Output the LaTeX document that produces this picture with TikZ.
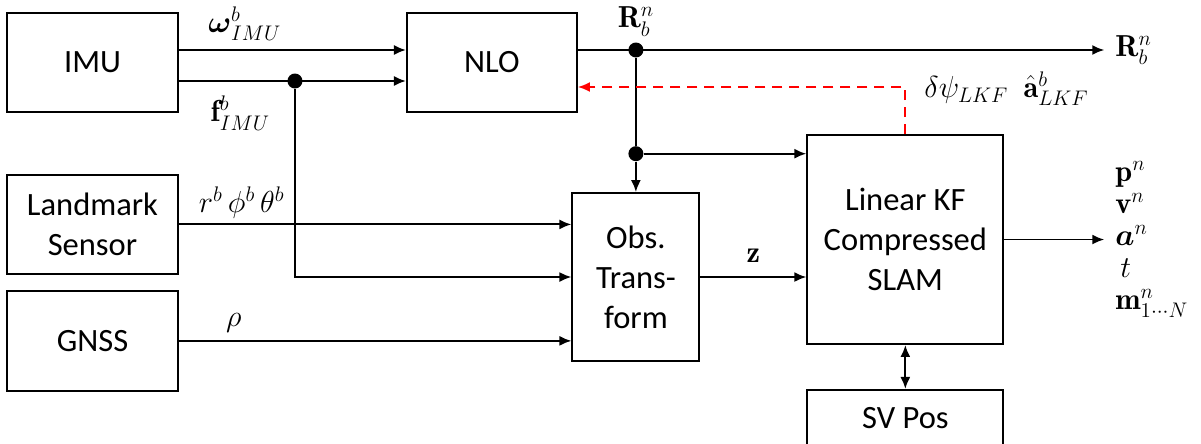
\documentclass[tikz,border=0pt]{standalone}
\usepackage{amsmath}
\usepackage{fontspec}
\setsansfont{Carlito}
\usetikzlibrary{positioning,arrows.meta,calc}
\definecolor{fbred}{HTML}{FF0000}

\begin{document}
\begin{tikzpicture}[
    >={Latex[length=2.4mm,width=2mm]},
    block/.style={
        draw,
        line width=1.1pt,
        align=center,
        font=\sffamily\fontsize{18.5}{22.8}\selectfont
    },
    sig/.style={->, line width=1.1pt},
    wire/.style={line width=1.1pt},
    feedback/.style={->, line width=1.1pt, fbred, dash pattern=on 0.2cm off 0.14cm},
    junction/.style={circle, fill, inner sep=0pt, minimum size=0.3cm},
    lbl/.style={font=\fontsize{17.28}{20}\selectfont, inner sep=1pt}
]
\useasboundingbox (0,0) rectangle (24.02,-8.86);

\node[block, minimum width=3.42cm, minimum height=1.98cm] (imu) at (1.85,-1.25) {IMU};
\node[block, minimum width=3.42cm, minimum height=1.98cm, below=1.22cm of imu] (landmark) {Landmark\\Sensor};
\node[block, minimum width=3.42cm, minimum height=2cm, below=0.3cm of landmark] (gnss) {GNSS};
\node[block, minimum width=3.4cm, minimum height=1.98cm, right=4.54cm of imu] (nlo) {NLO};

\node[junction] (fdot) at ([xshift=2.32cm, yshift=-0.37cm]imu.east) {};
\node[junction] (rdot) at ([xshift=1.16cm, yshift=0.25cm]nlo.east) {};
\node[junction, below=1.76cm of rdot] (kdot) {};

\node[block, minimum width=2.54cm, minimum height=3.36cm, below=0.61cm of kdot] (obs) {Obs.\\Trans-\\form};
\node[block, minimum width=3.92cm, minimum height=4.18cm, right=2.12cm of obs, yshift=0.75cm] (kf) {Linear KF\\Compressed\\SLAM};
\node[block, minimum width=3.92cm, minimum height=1.12cm, below=0.88cm of kf] (svpos) {SV Pos};

\coordinate (kend) at ([xshift=2cm]kf.east);
\coordinate (rend) at (kend |- rdot);

% IMU to observer
\draw[sig] ([yshift=0.25cm]imu.east) -- node[lbl, above=0.13cm, pos=0.29] (lomega) {$\boldsymbol{\omega}^b_{IMU}$} ([yshift=0.25cm]nlo.west);
\draw[sig] ([yshift=-0.37cm]imu.east) -- node[lbl, below=0.25cm, pos=0.27] (lforce) {$\mathbf{f}^b_{IMU}$} ([yshift=-0.37cm]nlo.west);
\draw[sig] (fdot) |- (obs.west);

% sensors to transform
\draw[sig] (landmark.east) -- node[lbl, above=0.07cm, pos=0.16] (lrange) {$r^b\,\phi^b\,\theta^b$} (landmark.east -| obs.west);
\draw[sig] (gnss.east) -- node[lbl, above=0.12cm, pos=0.14] (lrho) {$\rho$} (gnss.east -| obs.west);

% attitude
\draw[sig] ([yshift=0.25cm]nlo.east) -- (rend);
\node[lbl, right=0.18cm of rend] (rout) {$\mathbf{R}^n_b$};
\node[lbl, above=0.08cm of rdot] (ratt) {$\mathbf{R}^n_b$};
\draw[wire] (rdot) -- (kdot);
\draw[sig] (kdot) -- (obs);
\draw[sig] (kdot) -- (kdot -| kf.west);

% filter
\draw[sig] (obs.east) -- node[lbl, above=0.23cm] (lz) {$\mathbf{z}$} (obs.east -| kf.west);
\draw[feedback] (kf.north) |- ([yshift=-0.49cm]nlo.east);
\node[lbl, anchor=base] (lkf) at (20.13,-1.95) {$\delta\psi_{LKF}\enskip\hat{\mathbf{a}}^b_{LKF}$};
\draw[<->, line width=1.1pt] (kf) -- (svpos);

\draw[sig] (kf.east) -- (kend);
\node[lbl, right=0.18cm of kend, align=left, font=\fontsize{17.28}{18.2}\selectfont] (states) {$\mathbf{p}^n$\\$\mathbf{v}^n$\\$\boldsymbol{a}^n$\\$\,t$\\$\mathbf{m}^n_{1\cdots N}$};

\end{tikzpicture}
\end{document}
